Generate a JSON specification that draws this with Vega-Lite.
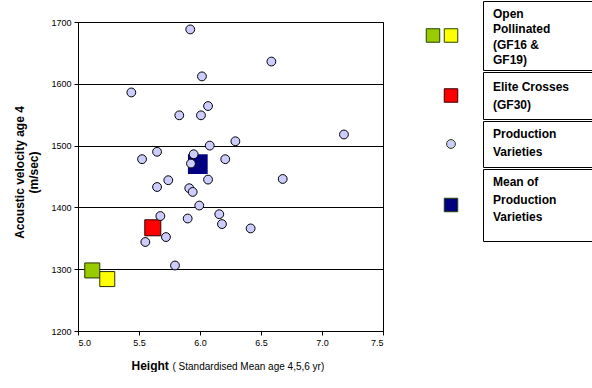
{
  "$schema": "https://vega.github.io/schema/vega-lite/v6.json",
  "padding": {"left": 13, "top": 0, "right": 0, "bottom": 0},
  "config": {
    "font": "Liberation Sans",
    "view": {"stroke": null},
    "axis": {"labelFont": "Liberation Sans", "titleFont": "Liberation Sans", "labelColor": "black", "titleColor": "black", "domainColor": "black", "tickColor": "black"}
  },
  "datasets": {
    "pts": [
      {"series": "GF16", "h": 5.117, "v": 1298},
      {"series": "GF19", "h": 5.24, "v": 1284},
      {"series": "GF30", "h": 5.613, "v": 1367},
      {"series": "Mean", "h": 5.982, "v": 1470},
      {"series": "Production", "h": 5.92, "v": 1688},
      {"series": "Production", "h": 6.585, "v": 1636},
      {"series": "Production", "h": 6.016, "v": 1612},
      {"series": "Production", "h": 5.437, "v": 1586},
      {"series": "Production", "h": 6.066, "v": 1564},
      {"series": "Production", "h": 5.83, "v": 1549},
      {"series": "Production", "h": 6.008, "v": 1549},
      {"series": "Production", "h": 7.18, "v": 1518},
      {"series": "Production", "h": 6.29, "v": 1507},
      {"series": "Production", "h": 6.08, "v": 1500},
      {"series": "Production", "h": 5.648, "v": 1490},
      {"series": "Production", "h": 5.948, "v": 1486},
      {"series": "Production", "h": 5.525, "v": 1478},
      {"series": "Production", "h": 6.207, "v": 1478},
      {"series": "Production", "h": 5.926, "v": 1471},
      {"series": "Production", "h": 6.678, "v": 1446},
      {"series": "Production", "h": 6.066, "v": 1445},
      {"series": "Production", "h": 5.74, "v": 1444},
      {"series": "Production", "h": 5.648, "v": 1433},
      {"series": "Production", "h": 5.912, "v": 1431},
      {"series": "Production", "h": 5.94, "v": 1425},
      {"series": "Production", "h": 5.994, "v": 1403},
      {"series": "Production", "h": 6.158, "v": 1389},
      {"series": "Production", "h": 5.675, "v": 1386},
      {"series": "Production", "h": 5.899, "v": 1382},
      {"series": "Production", "h": 6.18, "v": 1373},
      {"series": "Production", "h": 6.415, "v": 1366},
      {"series": "Production", "h": 5.721, "v": 1352},
      {"series": "Production", "h": 5.552, "v": 1344},
      {"series": "Production", "h": 5.795, "v": 1306}
    ],
    "leg": [
      {"row": 1, "col": "a", "series": "GF16"},
      {"row": 1, "col": "b", "series": "GF19"},
      {"row": 2, "col": "b", "series": "GF30"},
      {"row": 3, "col": "b", "series": "Production"},
      {"row": 4, "col": "b", "series": "Mean"}
    ]
  },
  "spacing": 40,
  "hconcat": [
    {
      "spacing": 15,
      "vconcat": [
        {"width": 305, "height": 1, "data": {"values": []}, "mark": "point"},
        {
          "width": 305,
          "height": 309,
          "view": {"stroke": "black", "strokeWidth": 1},
          "data": {"name": "pts"},
          "encoding": {
            "y": {
              "field": "v", "type": "quantitative",
              "scale": {"domain": [1200, 1700], "nice": false, "zero": false},
              "axis": {
                "values": [1200, 1300, 1400, 1500, 1600, 1700], "format": "d",
                "grid": true, "gridColor": "black", "gridOpacity": 1, "gridWidth": 1,
                "tickSize": 4, "labelFontSize": 9, "labelPadding": 3,
                "title": ["Acoustic velocity age 4", "(m/sec)"],
                "titleFontSize": 12, "titleFontWeight": "bold", "titleLineHeight": 14, "titlePadding": 10, "titleY": 150
              }
            }
          },
          "layer": [
            {
              "transform": [{"filter": "datum.series == 'GF16' || datum.series == 'GF19'"}],
              "mark": {"type": "square", "filled": true, "opacity": 1, "strokeWidth": 1, "size": 225, "stroke": "#2a3300"},
              "encoding": {
                "x": {
                  "field": "h", "type": "quantitative",
                  "scale": {"domain": [5, 7.5], "nice": false, "zero": false},
                  "axis": {
                    "orient": "bottom", "labels": false, "ticks": false, "domain": false, "grid": false,
                    "title": "( Standardised Mean age 4,5,6 yr)",
                    "titleFontSize": 10, "titleFontWeight": "normal",
                    "titleAlign": "left", "titleBaseline": "alphabetic", "titleX": 94, "titleY": 38
                  }
                },
                "color": {"field": "series", "type": "nominal", "scale": {"domain": ["GF16", "GF19", "GF30", "Mean"], "range": ["#99cc00", "#ffff00", "#ff0000", "#000080"]}, "legend": null}
              }
            },
            {
              "transform": [{"filter": "datum.series == 'GF30'"}],
              "mark": {"type": "square", "filled": true, "opacity": 1, "strokeWidth": 1, "size": 256, "stroke": "#330000"},
              "encoding": {
                "x": {"field": "h", "type": "quantitative", "scale": {"domain": [5, 7.5], "nice": false, "zero": false}, "axis": null},
                "color": {"field": "series", "type": "nominal", "scale": {"domain": ["GF16", "GF19", "GF30", "Mean"], "range": ["#99cc00", "#ffff00", "#ff0000", "#000080"]}, "legend": null}
              }
            },
            {
              "transform": [{"filter": "datum.series == 'Mean'"}],
              "mark": {"type": "square", "filled": true, "opacity": 1, "size": 390},
              "encoding": {
                "x": {"field": "h", "type": "quantitative", "scale": {"domain": [5, 7.5], "nice": false, "zero": false}, "axis": null},
                "color": {"field": "series", "type": "nominal", "scale": {"domain": ["GF16", "GF19", "GF30", "Mean"], "range": ["#99cc00", "#ffff00", "#ff0000", "#000080"]}, "legend": null}
              }
            },
            {
              "transform": [{"filter": "datum.series == 'Production'"}],
              "mark": {"type": "circle", "size": 78, "fill": "#ccccff", "stroke": "black", "strokeWidth": 1, "opacity": 1},
              "encoding": {
                "x": {
                  "field": "h", "type": "quantitative",
                  "scale": {"domain": [5, 7.5], "nice": false, "zero": false},
                  "axis": {
                    "orient": "bottom",
                    "values": [5, 5.5, 6, 6.5, 7, 7.5], "format": ".1f", "grid": false,
                    "tickSize": 4, "labelFontSize": 9, "labelPadding": 3,
                    "title": "Height", "titleFontSize": 12, "titleFontWeight": "bold",
                    "titleAlign": "left", "titleBaseline": "alphabetic", "titleX": 53, "titleY": 38
                  }
                }
              }
            }
          ],
          "resolve": {"axis": {"x": "independent"}}
        }
      ]
    },
    {
      "spacing": 0,
      "vconcat": [
        {
          "spacing": 22,
          "hconcat": [
            {
              "width": 36, "height": 69,
              "data": {"name": "leg"},
              "transform": [{"filter": "datum.row == 1"}],
              "mark": {"type": "point", "shape": "square", "filled": true, "opacity": 1, "strokeWidth": 1, "size": 182, "stroke": "#224400", "dy": 12},
              "encoding": {
                "x": {"field": "col", "type": "nominal", "scale": {"domain": ["a", "b"], "paddingInner": 0, "paddingOuter": 0}, "axis": null},
                "fill": {"field": "series", "type": "nominal", "scale": {"domain": ["GF16", "GF19"], "range": ["#99cc00", "#ffff00"]}, "legend": null}
              }
            },
            {
              "width": 109, "height": 69,
              "view": {"stroke": "black", "strokeWidth": 1},
              "data": {"values": [{"t": "Open\nPollinated\n(GF16  &\nGF19)"}]},
              "mark": {"type": "text", "align": "left", "baseline": "top", "dx": -44.5, "dy": -26.5, "fontSize": 12, "fontWeight": "bold", "lineBreak": "\n", "lineHeight": 15.3, "color": "black"},
              "encoding": {"text": {"field": "t", "type": "nominal"}}
            }
          ]
        },
        {
          "spacing": 22,
          "hconcat": [
            {
              "width": 36, "height": 47,
              "data": {"name": "leg"},
              "transform": [{"filter": "datum.row == 2"}],
              "mark": {"type": "point", "shape": "square", "filled": true, "opacity": 1, "strokeWidth": 1, "size": 182, "stroke": "#330000", "color": "#ff0000", "dy": 1},
              "encoding": {
                "x": {"field": "col", "type": "nominal", "scale": {"domain": ["a", "b"], "paddingInner": 0, "paddingOuter": 0}, "axis": null}
              }
            },
            {
              "width": 109, "height": 47,
              "view": {"stroke": "black", "strokeWidth": 1},
              "data": {"values": [{"t": "Elite Crosses\n(GF30)"}]},
              "mark": {"type": "text", "align": "left", "baseline": "top", "dx": -44.5, "dy": -13.5, "fontSize": 12, "fontWeight": "bold", "lineBreak": "\n", "lineHeight": 18, "color": "black"},
              "encoding": {"text": {"field": "t", "type": "nominal"}}
            }
          ]
        },
        {
          "spacing": 22,
          "hconcat": [
            {
              "width": 36, "height": 46,
              "data": {"name": "leg"},
              "transform": [{"filter": "datum.row == 3"}],
              "mark": {"type": "point", "shape": "circle", "filled": true, "opacity": 1, "strokeWidth": 1, "size": 78, "stroke": "#224400", "color": "#ccccff", "dy": 1},
              "encoding": {
                "x": {"field": "col", "type": "nominal", "scale": {"domain": ["a", "b"], "paddingInner": 0, "paddingOuter": 0}, "axis": null}
              }
            },
            {
              "width": 109, "height": 46,
              "view": {"stroke": "black", "strokeWidth": 1},
              "data": {"values": [{"t": "Production\nVarieties"}]},
              "mark": {"type": "text", "align": "left", "baseline": "top", "dx": -44.5, "dy": -15, "fontSize": 12, "fontWeight": "bold", "lineBreak": "\n", "lineHeight": 18, "color": "black"},
              "encoding": {"text": {"field": "t", "type": "nominal"}}
            }
          ]
        },
        {
          "spacing": 22,
          "hconcat": [
            {
              "width": 36, "height": 72,
              "data": {"name": "leg"},
              "transform": [{"filter": "datum.row == 4"}],
              "mark": {"type": "point", "shape": "square", "filled": true, "opacity": 1, "strokeWidth": 1, "size": 182, "stroke": "#224400", "color": "#000080", "dy": -9},
              "encoding": {
                "x": {"field": "col", "type": "nominal", "scale": {"domain": ["a", "b"], "paddingInner": 0, "paddingOuter": 0}, "axis": null}
              }
            },
            {
              "width": 109, "height": 72,
              "view": {"stroke": "black", "strokeWidth": 1},
              "data": {"values": [{"t": "Mean of\nProduction\nVarieties"}]},
              "mark": {"type": "text", "align": "left", "baseline": "top", "dx": -44.5, "dy": -28, "fontSize": 12, "fontWeight": "bold", "lineBreak": "\n", "lineHeight": 17.5, "color": "black"},
              "encoding": {"text": {"field": "t", "type": "nominal"}}
            }
          ]
        }
      ]
    }
  ]
}
